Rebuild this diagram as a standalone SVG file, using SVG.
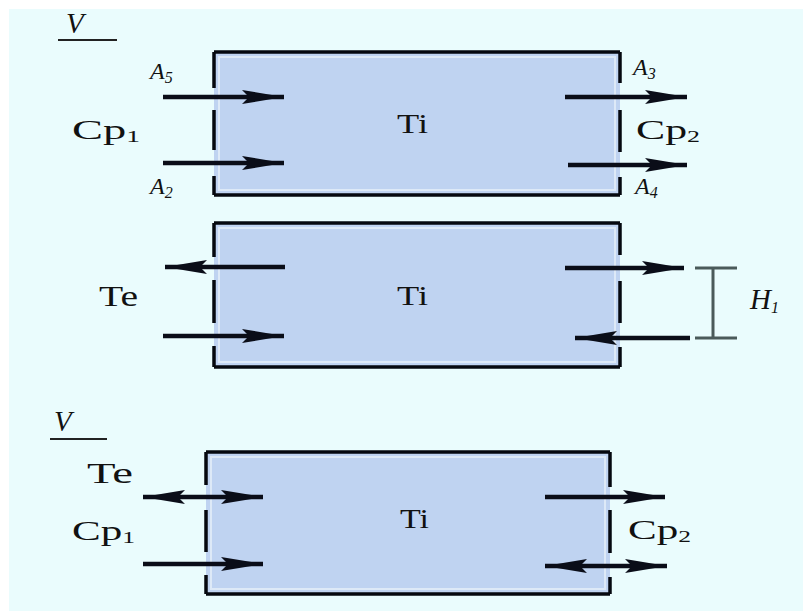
<svg xmlns="http://www.w3.org/2000/svg" width="803" height="611" viewBox="0 0 803 611">
<defs>
<style>
.bg{fill:#eafcfd}
.box{fill:#bfd3f1}
.inner{fill:none;stroke:#dde9f7;stroke-width:2}
.edge{fill:none;stroke:#05080f;stroke-width:3.5}
.arr{stroke:#0a0d18;stroke-width:4.5;fill:none}
.t{font-family:"Liberation Serif","Times New Roman",serif;fill:#111;font-size:27px}
.i{font-style:italic;font-size:24px}
.big{font-size:29px}
.sub{font-size:16px}
.dim{stroke:#4a5a5a;stroke-width:3;fill:none}
</style>
<marker id="ah" viewBox="0 0 42 14" refX="42" refY="7" markerWidth="42" markerHeight="14" markerUnits="userSpaceOnUse" orient="auto-start-reverse">
<path d="M0,0 L42,7 L0,14 L7,7 Z" fill="#0a0d18"/>
</marker>
</defs>
<rect width="803" height="611" fill="#ffffff"/>
<rect class="bg" x="9" y="9" width="794" height="602"/>

<g id="box1">
<rect class="box" x="214" y="52" width="406" height="143"/>
<rect class="inner" x="219" y="57" width="396" height="133"/>
<path class="edge" d="M214,52 H620 M214,195 H620 M214,52 V88 M214,110 V150 M214,176 V195 M620,52 V83 M620,110 V152 M620,177 V195"/>
<text class="t" x="397" y="133" textLength="31" lengthAdjust="spacingAndGlyphs">Ti</text>
</g>

<g id="box2">
<rect class="box" x="214" y="223" width="406" height="144"/>
<rect class="inner" x="219" y="228" width="396" height="134"/>
<path class="edge" d="M214,223 H620 M214,367 H620 M214,223 V257 M214,280 V323 M214,346 V367 M620,223 V255 M620,281 V323 M620,347 V367"/>
<text class="t" x="397" y="305" textLength="31" lengthAdjust="spacingAndGlyphs">Ti</text>
</g>

<g id="box3">
<rect class="box" x="206" y="452" width="404" height="142"/>
<rect class="inner" x="211" y="457" width="394" height="132"/>
<path class="edge" d="M206,452 H610 M206,594 H610 M206,452 V485 M206,510 V552 M206,575 V594 M610,452 V487 M610,510 V553 M610,577 V594"/>
<text class="t" x="400" y="528" textLength="29" lengthAdjust="spacingAndGlyphs">Ti</text>
</g>

<g id="connectors">
<line class="arr" x1="163" y1="97" x2="284" y2="97" marker-end="url(#ah)"/>
<line class="arr" x1="163" y1="163" x2="284" y2="163" marker-end="url(#ah)"/>
<line class="arr" x1="565" y1="97" x2="687" y2="97" marker-end="url(#ah)"/>
<line class="arr" x1="568" y1="165" x2="687" y2="165" marker-end="url(#ah)"/>

<line class="arr" x1="285" y1="267" x2="165" y2="267" marker-end="url(#ah)"/>
<line class="arr" x1="163" y1="336" x2="284" y2="336" marker-end="url(#ah)"/>
<line class="arr" x1="565" y1="268" x2="684" y2="268" marker-end="url(#ah)"/>
<line class="arr" x1="690" y1="338" x2="575" y2="338" marker-end="url(#ah)"/>

<line class="arr" x1="143" y1="497" x2="263" y2="497" marker-start="url(#ah)" marker-end="url(#ah)"/>
<line class="arr" x1="143" y1="564" x2="263" y2="564" marker-end="url(#ah)"/>
<line class="arr" x1="545" y1="497" x2="665" y2="497" marker-end="url(#ah)"/>
<line class="arr" x1="545" y1="566" x2="667" y2="566" marker-start="url(#ah)" marker-end="url(#ah)"/>

<path class="dim" d="M713,268 V338 M695,268 H737 M695,338 H737"/>
</g>

<g id="labels">
<text class="t i big" x="66" y="33">V</text>
<line x1="58" y1="40" x2="117" y2="40" stroke="#222" stroke-width="2"/>
<text class="t i" x="150" y="79">A<tspan class="sub" dy="4">5</tspan></text>
<text class="t" x="72" y="139" textLength="68" lengthAdjust="spacingAndGlyphs">Cp<tspan class="sub" dy="3">1</tspan></text>
<text class="t i" x="150" y="194">A<tspan class="sub" dy="4">2</tspan></text>
<text class="t i" x="633" y="75">A<tspan class="sub" dy="4">3</tspan></text>
<text class="t" x="636" y="139" textLength="64" lengthAdjust="spacingAndGlyphs">Cp<tspan class="sub" dy="3">2</tspan></text>
<text class="t i" x="635" y="194">A<tspan class="sub" dy="4">4</tspan></text>

<text class="t big" x="99" y="306" textLength="39" lengthAdjust="spacingAndGlyphs">Te</text>
<text class="t i big" x="750" y="309">H<tspan class="sub" dy="4">1</tspan></text>

<text class="t i big" x="54" y="431">V</text>
<line x1="50" y1="439" x2="107" y2="439" stroke="#222" stroke-width="2"/>
<text class="t big" x="87" y="483" textLength="46" lengthAdjust="spacingAndGlyphs">Te</text>
<text class="t" x="72" y="540" textLength="63" lengthAdjust="spacingAndGlyphs">Cp<tspan class="sub" dy="3">1</tspan></text>
<text class="t" x="628" y="539" textLength="63" lengthAdjust="spacingAndGlyphs">Cp<tspan class="sub" dy="3">2</tspan></text>
</g>
</svg>
